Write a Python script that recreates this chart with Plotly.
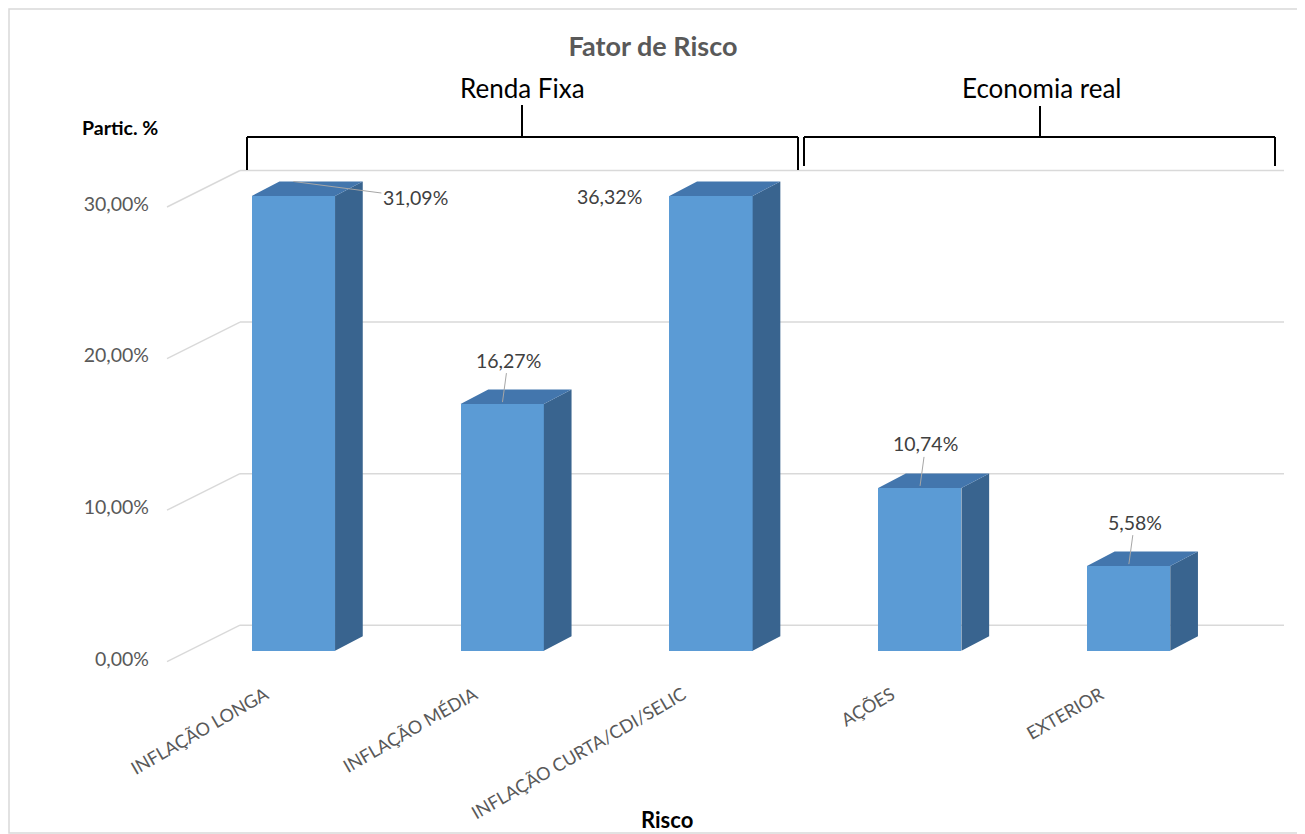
import plotly.graph_objects as go

# Data
categorias = ["INFLAÇÃO LONGA", "INFLAÇÃO MÉDIA", "INFLAÇÃO CURTA/CDI/SELIC", "AÇÕES", "EXTERIOR"]
participacao = [31.09, 16.27, 36.32, 10.74, 5.58]
rotulos = ["31,09%", "16,27%", "36,32%", "10,74%", "5,58%"]
y_ticks = [0, 10, 20, 30]
y_ticktext = ["0,00%", "10,00%", "20,00%", "30,00%"]
grupos = ["Renda Fixa", "Economia real"]

# Page geometry: the browser puts the figure 8 px in from the page corner,
# so positions below are page pixels and get OFF removed.
OFF = 8
W, H = 1305 - OFF, 834 - OFF
L, R, T, B = 165, 1290, 140, 665          # plot area edges (page px)
X0, SLOT = 293.4, 208.8                    # centre of first bar, distance between bars
Y0, PXU = 650.7, 15.157                    # pixel of 0 %, pixels per 1 %
YMAX = 30                                  # axis maximum (taller bars are cut)

def dx(px):
    return px / SLOT

def dy(px):
    return px / PXU

def fx(px):
    return (px - L) / (R - L)

def fy(py):
    return (B - py) / (B - T)

BAR_W = dx(83.3)
DEPTH_X, DEPTH_Y = dx(27.7), dy(14.5)
WALL_X, WALL_Y = dx(51), dy(25.5)
FLOOR_X, FLOOR_Y = dx(-22), dy(-11)

FRONT = "#5B9BD5"
TOP = "#4376AD"
SIDE = "#39648F"
GRID = "#D9D9D9"
TXT = "#595959"
FONT = "Lato"

idx = list(range(len(categorias)))
altura = [min(v, YMAX) for v in participacao]

fig = go.Figure()

# front faces
fig.add_trace(go.Bar(
    x=idx, y=altura, width=BAR_W,
    marker=dict(color=FRONT, line=dict(width=0)),
    hoverinfo="skip", showlegend=False
))

# side and top faces of the 3D bars
side_x, side_y, top_x, top_y = [], [], [], []
for i, h in zip(idx, altura):
    xl, xr = i - BAR_W / 2, i + BAR_W / 2
    side_x += [xr, xr + DEPTH_X, xr + DEPTH_X, xr, xr, None]
    side_y += [0, DEPTH_Y, h + DEPTH_Y, h, 0, None]
    top_x += [xl, xr, xr + DEPTH_X, xl + DEPTH_X, xl, None]
    top_y += [h, h, h + DEPTH_Y, h + DEPTH_Y, h, None]

fig.add_trace(go.Scatter(x=side_x, y=side_y, mode="lines", fill="toself",
                         fillcolor=SIDE, line=dict(width=0, color=SIDE),
                         hoverinfo="skip", showlegend=False))
fig.add_trace(go.Scatter(x=top_x, y=top_y, mode="lines", fill="toself",
                         fillcolor=TOP, line=dict(width=0, color=TOP),
                         hoverinfo="skip", showlegend=False))

# back wall gridlines + floor diagonals
shapes = []
x_left, x_right = idx[0] - 0.5, idx[-1] + 0.5
for v in y_ticks:
    shapes.append(dict(type="line", xref="x", yref="y", layer="below",
                       x0=x_left + WALL_X, x1=x_right + WALL_X,
                       y0=v + WALL_Y, y1=v + WALL_Y,
                       line=dict(color=GRID, width=1.5)))
    shapes.append(dict(type="line", xref="x", yref="y", layer="below",
                       x0=x_left + WALL_X, x1=x_left + FLOOR_X,
                       y0=v + WALL_Y, y1=v + FLOOR_Y,
                       line=dict(color=GRID, width=1.5)))

# chart border (as close to the page corner as the figure allows)
shapes.append(dict(type="rect", xref="paper", yref="paper", layer="below",
                   x0=fx(OFF + 1), x1=fx(1300), y0=fy(833), y1=fy(OFF + 1),
                   line=dict(color=GRID, width=1.5)))

# group brackets
brackets = [(247, 798, 170, 137, 522, 105), (804, 1275, 166, 137, 1040, 106)]
for x0b, x1b, yb, yh, xc, yt in brackets:
    for seg in [(x0b, yb, x0b, yh), (x0b, yh, x1b, yh), (x1b, yh, x1b, yb), (xc, yh, xc, yt)]:
        shapes.append(dict(type="line", xref="paper", yref="paper",
                           x0=fx(seg[0]), y0=fy(seg[1]), x1=fx(seg[2]), y1=fy(seg[3]),
                           line=dict(color="black", width=2)))

annotations = []
for nome, xc in zip(grupos, [522, 1041]):
    annotations.append(dict(text=nome, xref="paper", yref="paper", x=fx(xc), y=fy(88),
                            showarrow=False, xanchor="center", yanchor="middle",
                            font=dict(family=FONT, size=26, color="black")))

# data labels
lab_font = dict(family=FONT, size=19.5, color="#404040")
for i, (h, txt) in enumerate(zip(altura, rotulos)):
    if i == 0:
        annotations.append(dict(x=i, y=h + DEPTH_Y, xref="x", yref="y", text=txt,
                                showarrow=True, arrowhead=0, arrowwidth=1,
                                arrowcolor="#A6A6A6", ax=122, ay=16, font=lab_font))
    elif i == 2:
        annotations.append(dict(x=i, y=h, xref="x", yref="y", text=txt,
                                showarrow=False, xshift=-102, yshift=-1, font=lab_font))
    else:
        annotations.append(dict(x=i, y=h, xref="x", yref="y", text=txt,
                                showarrow=True, arrowhead=0, arrowwidth=1,
                                arrowcolor="#A6A6A6", ax=6, ay=-44, standoff=2,
                                font=lab_font))

# axis titles
annotations.append(dict(text="<b>Partic. %</b>", xref="paper", yref="paper",
                        x=fx(120), y=fy(127), showarrow=False,
                        xanchor="center", yanchor="middle",
                        font=dict(family=FONT, size=19.5, color="black")))
annotations.append(dict(text="<b>Risco</b>", xref="paper", yref="paper",
                        x=fx(667), y=fy(819), showarrow=False,
                        xanchor="center", yanchor="middle",
                        font=dict(family=FONT, size=22, color="black")))

fig.update_layout(
    width=W, height=H, autosize=False,
    margin=dict(l=L - OFF, r=W - (R - OFF), t=T - OFF, b=H - (B - OFF)),
    paper_bgcolor="white", plot_bgcolor="white",
    title=dict(text="<b>Fator de Risco</b>", x=(653 - OFF) / W, xanchor="center",
               y=1 - (47 - OFF) / H, yanchor="middle",
               font=dict(family=FONT, size=27, color=TXT)),
    shapes=shapes, annotations=annotations,
    showlegend=False, bargap=0,
)

fig.update_xaxes(
    range=[dx(L - X0), dx(R - X0)], tickvals=idx, ticktext=categorias,
    tickangle=-30, showgrid=False, zeroline=False, showline=False, ticks="",
    ticklabelshift=-28, ticklabelstandoff=15,
    tickfont=dict(family=FONT, size=18, color=TXT), fixedrange=True
)
fig.update_yaxes(
    range=[dy(Y0 - B), dy(Y0 - T)], tickvals=y_ticks, ticktext=y_ticktext,
    showgrid=False, zeroline=False, showline=False, ticks="",
    ticklabelshift=8, ticklabelstandoff=15,
    tickfont=dict(family=FONT, size=19.5, color=TXT), fixedrange=True
)

fig.write_html("out.html")
